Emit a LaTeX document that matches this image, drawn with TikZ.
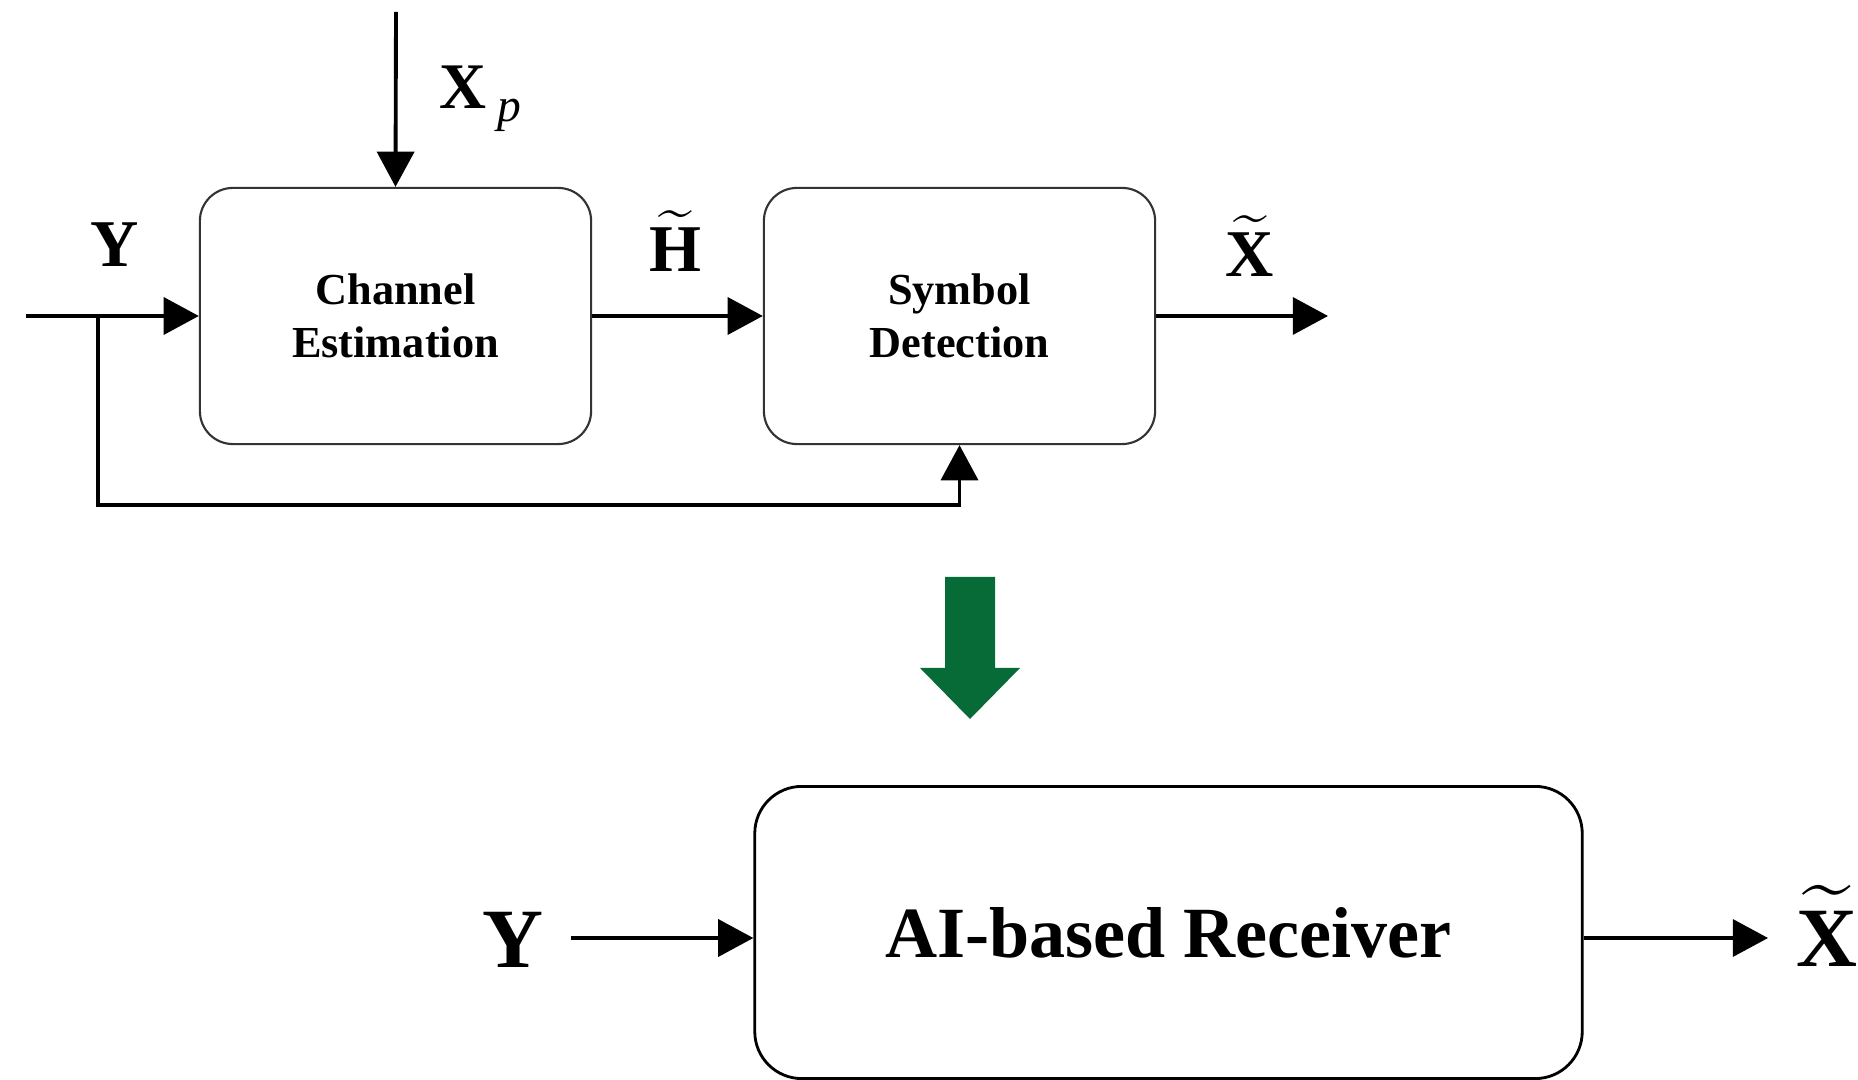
\documentclass[tikz,border=0pt]{standalone}
\usepackage{amsmath}
\usepackage{fontspec}
\setmainfont{Liberation Serif}
\usetikzlibrary{arrows.meta}
\definecolor{flowgreen}{RGB}{6,107,54}

\tikzset{
  block/.style={draw=black!80, line width=0.6pt, rounded corners=0.33cm,
    minimum width=3.91cm, minimum height=2.56cm, align=center,
    font=\fontsize{12.6}{15}\selectfont\bfseries},
  bigblock/.style={draw=black, line width=0.8pt, rounded corners=0.47cm,
    minimum width=8.27cm, minimum height=2.92cm, align=center,
    font=\fontsize{20.5}{24}\selectfont\bfseries},
  conn/.style={line width=1.1pt, -{Triangle[length=10pt,width=10.5pt]}},
  sig/.style={inner sep=0pt, anchor=base, font=\fontsize{19}{22}\selectfont},
  bigsig/.style={sig, font=\fontsize{24}{28}\selectfont},
}

\begin{document}
\begin{tikzpicture}[x=0.01cm, y=-0.01cm]
  \useasboundingbox (0,0) rectangle (1858,1080);

  % classical receiver chain
  \node[block] (est) at (395.5,316) {Channel\\Estimation};
  \node[block] (det) at (959.5,316) {Symbol\\Detection};

  \coordinate (pilot) at (396,12);
  \coordinate (yin) at (26,316);
  \coordinate (tap) at (98,316);
  \coordinate (fb) at (98,505);
  \coordinate (xout) at (1328,316);

  \draw[conn] (pilot) -- (est.north);
  \draw[conn] (yin) -- (est.west);
  \draw[conn] (est) -- (det);
  \draw[conn] (det) -- (xout);
  \draw[conn] (tap) -- (fb) -| (det.south);

  \node[sig] (ytop) at (115,267) {\textbf{Y}};
  \node[sig] (hest) at (675,272) {$\widetilde{\text{\bfseries H}}$};
  \node[sig] (xest) at (1250,277) {$\widetilde{\text{\bfseries X}}$};
  \node[sig, anchor=base west, font=\fontsize{18.5}{20}\selectfont] (xpilot) at (439,109)
    {\textbf{X}\hspace{3pt}\raisebox{-3.7pt}{\fontsize{13.5}{15}\selectfont\itshape p}};

  % big green arrow
  \fill[flowgreen] (945,577) -- (995,577) -- (995,668) -- (1020,668)
    -- (970,719) -- (920,668) -- (945,668) -- cycle;

  % end-to-end receiver
  \node[bigblock] (ai) at (1168.5,932.5) {AI-based Receiver};
  \node[bigsig] (ybig) at (513,967) {\textbf{Y}};
  \node[bigsig, anchor=base west] (xbig) at (1796,966) {$\widetilde{\text{\bfseries X}}$};

  \coordinate (aiin) at (571,938);
  \coordinate (aiout) at (1768,938);
  \draw[conn] (aiin) -- (aiin -| ai.west);
  \draw[conn] (aiin -| ai.east) -- (aiout);
\end{tikzpicture}
\end{document}
